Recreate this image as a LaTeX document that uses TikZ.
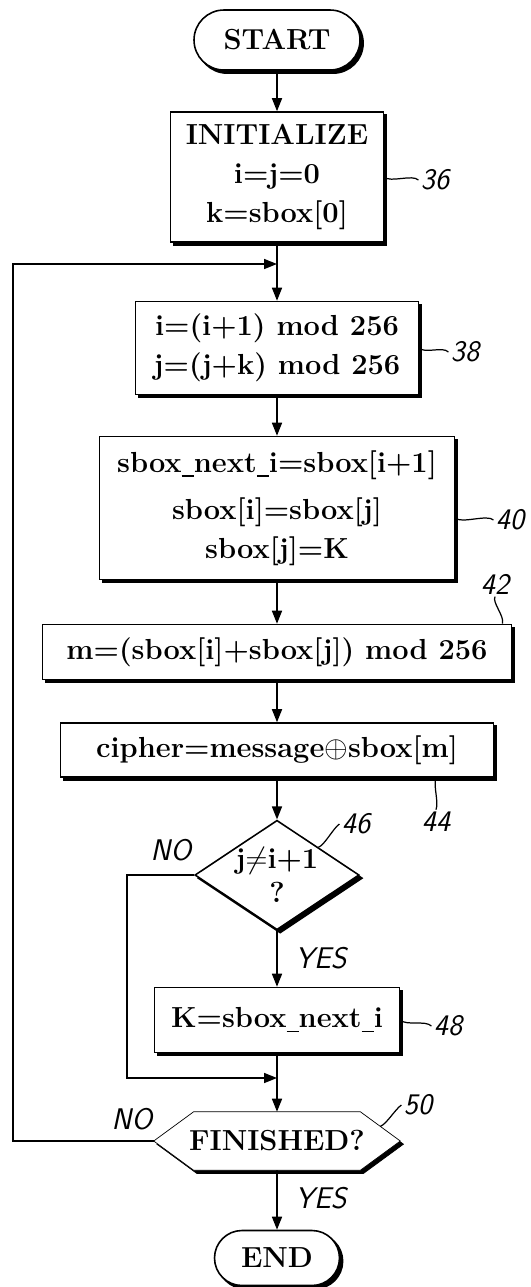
\documentclass[tikz,border=0pt]{standalone}
\usetikzlibrary{arrows.meta,calc,shapes.geometric,shapes.misc,backgrounds}

\newcommand{\usc}{\rule[-2.5pt]{0.42em}{0.9pt}}

\tikzset{
  dshadow/.style={preaction={fill=black, draw=black, transform canvas={xshift=1.8pt, yshift=-1.8pt}}},
  blk/.style={draw, fill=white, align=center, inner sep=2pt, dshadow,
    font=\fontsize{16.5}{22}\selectfont\bfseries},
  term/.style={blk, rounded rectangle},
  dec/.style={blk, diamond, shape aspect=1.5, inner sep=0pt},
  refno/.style={font=\fontsize{17}{17}\selectfont\sffamily\itshape, inner sep=1pt},
  tick/.style={line width=0.7pt},
}

\begin{document}
\begin{tikzpicture}[x=0.2mm, y=-0.2mm, line width=0.9pt, >={Triangle[length=2.6mm,width=2mm]}]
\useasboundingbox (0,0) rectangle (531,1287);

% main column
\node[term, minimum width=34.6mm, minimum height=12mm] (start) at (277,40) {START};
\node[blk, minimum width=42.6mm, minimum height=26mm] (init) at (277,177)
  {INITIALIZE\\ i=j=0\\ k=sbox[0]};
\node[blk, minimum width=56.6mm, minimum height=18.6mm] (s38) at (277,348)
  {i=(i+1) mod 256\\ j=(j+k) mod 256};
\node[blk, minimum width=71mm, minimum height=28.6mm] (s40) at (277,508)
  {sbox\usc next\usc i=sbox[i+1]\\[5pt] sbox[i]=sbox[j]\\ sbox[j]=K};
\node[blk, minimum width=93.8mm, minimum height=11mm] (s42) at (277,652)
  {m=(sbox[i]+sbox[j]) mod 256};
\node[blk, minimum width=86.6mm, minimum height=10.8mm] (s44) at (277,750)
  {cipher=message$\oplus$sbox[m]};
\node[dec, minimum width=32mm, minimum height=21.2mm] (d46) at (277,875)
  {j$\neq$i+1\\[-3pt] ?};
\node[blk, minimum width=49mm, minimum height=13mm] (s48) at (277,1020)
  {K=sbox\usc next\usc i};
\node[minimum width=49mm, minimum height=11.4mm, inner sep=0pt,
  font=\fontsize{16.5}{22}\selectfont\bfseries] (fin) at (277,1141) {FINISHED?};
\begin{scope}[on background layer]
  \path[draw, fill=white, dshadow] (fin.west) -- ([xshift=8mm]fin.north west)
    -- ([xshift=-8mm]fin.north east) -- (fin.east)
    -- ([xshift=-8mm]fin.south east) -- ([xshift=8mm]fin.south west) -- cycle;
\end{scope}
\node[term, minimum width=26.4mm, minimum height=11mm] (end) at (277,1258) {END};

% joints of the loops
\coordinate (j1) at (277,264);
\coordinate (j2) at (277,1078);
\coordinate (loopL) at (13,1141);
\coordinate (noL) at (127,875);

% flow
\draw[->] (start) -- (init);
\draw[->] (init) -- (s38);
\draw[->] (s38) -- (s40);
\draw[->] (s40) -- (s42);
\draw[->] (s42) -- (s44);
\draw[->] (s44) -- (d46.north);
\draw[->] (d46.south) -- (s48);
\draw[->] (s48) -- (fin.north);
\draw[->] (fin.south) -- (end);
\draw[->] (d46.west) -- (noL) |- (j2);
\draw[->] (fin.west) -- (loopL) |- (j1);

% yes / no
\node[refno] (no1) at (171,850) {NO};
\node[refno] (yes1) at (321,958) {YES};
\node[refno] (no2) at (132,1119) {NO};
\node[refno] (yes2) at (321,1198) {YES};

% reference numerals
\node[refno] (l36) at (435,180) {36};
\node[refno] (l38) at (465,352) {38};
\node[refno] (l40) at (510,520) {40};
\node[refno] (l42) at (495,584) {42};
\node[refno] (l44) at (436,822) {44};
\node[refno] (l46) at (356,824) {46};
\node[refno] (l48) at (448,1026) {48};
\node[refno] (l50) at (418,1105) {50};
\coordinate (e50) at ($(fin.east)!0.5!([xshift=-8mm]fin.north east)$);

\draw[tick] (init.east) .. controls +(6,6) and +(-6,-6) .. (l36.west);
\draw[tick] (s38.east) .. controls +(6,6) and +(-6,-6) .. (l38.west);
\draw[tick] ([yshift=-2mm]s40.east) .. controls +(6,6) and +(-6,-6) .. (l40.west);
\draw[tick] ([xshift=1.5mm]s42.north -| l42.south) .. controls +(2,-8) and +(-3,6) .. (l42.south);
\draw[tick] (l44.north |- s44.south) .. controls +(-3,8) and +(3,-8) .. (l44.north);
\draw[tick] (d46.north east) .. controls +(6,-2) and +(-6,4) .. (l46.west);
\draw[tick] (s48.east) .. controls +(6,6) and +(-6,-6) .. (l48.west);
\draw[tick] (e50) .. controls +(6,-2) and +(-6,4) .. (l50.west);
\end{tikzpicture}
\end{document}
